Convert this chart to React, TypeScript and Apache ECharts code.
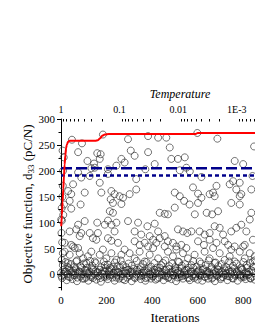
import React, { useEffect, useRef } from 'react';
import * as echarts from 'echarts';

// ---- axis ticks ----
const yTickValues = [0, 50, 100, 150, 200, 250, 300];
const yMinorTickValues = [-25, 25, 75, 125, 175, 225, 275];
const topTickLabels = ['1', '0.1', '0.01', '1E-3'];
const tempMinorTicks = [
  0.9, 0.8, 0.7, 0.6, 0.5, 0.4, 0.3, 0.2,
  0.09, 0.08, 0.07, 0.06, 0.05, 0.04, 0.03, 0.02,
  0.009, 0.008, 0.007, 0.006, 0.005, 0.004, 0.003, 0.002,
  0.0009, 0.0008, 0.0007, 0.0006, 0.0005,
];

// ---- best-so-far objective (red line) ----
const bestSoFar: [number, number][] = [
  [1, 93], [4, 115], [7, 140], [10, 165], [13, 190], [16, 212], [19, 230], [22, 243],
  [26, 251], [31, 256], [38, 258], [60, 258], [100, 258], [150, 258], [162, 259],
  [172, 263], [182, 268], [192, 270], [210, 271], [590, 271], [600, 273], [851, 273],
];

// ---- reference levels (blue dashed) ----
const longDashLine: [number, number][] = [[0, 205], [851, 205]];
const shortDashLine: [number, number][] = [[0, 191], [851, 191]];

// ---- sampled objective values (open circles) ----
const upperPoints: [number, number][] = [
  [48, 260], [92, 253], [184, 270], [294, 261], [382, 267], [426, 264], [462, 264], [598, 273], [686, 262], [847, 247],
  [75, 236], [159, 234], [174, 232], [306, 239], [323, 229], [382, 236], [477, 245],
  [116, 219], [145, 214], [170, 223], [265, 223], [279, 216], [243, 210], [484, 223], [513, 223], [543, 226], [411, 213], [762, 219], [799, 213],
  [133, 205], [148, 206], [206, 203], [370, 203], [521, 201], [550, 206], [565, 199], [616, 188], [126, 190], [75, 197], [89, 187], [206, 194], [330, 184],
  [53, 174], [170, 177], [740, 174], [755, 180], [784, 177], [840, 190], [579, 168], [682, 171], [769, 164], [835, 164],
  [31, 161], [45, 155], [104, 158], [177, 158], [221, 161], [235, 155], [257, 151], [272, 148], [301, 155], [330, 164], [499, 158], [521, 151], [540, 142], [601, 156], [616, 148], [652, 155], [667, 158], [674, 151], [784, 151], [791, 155],
  [38, 142], [86, 135], [218, 145], [228, 138], [265, 136], [499, 129], [564, 135], [601, 138], [747, 138], [784, 135],
  [45, 127], [214, 122], [228, 119], [433, 119], [455, 117], [469, 116], [587, 116], [639, 119], [663, 116], [689, 122], [835, 119],
];

const leftColumnPoints: [number, number][] = [
  [1, 106], [2, 80], [4, 104], [3, 128], [6, 150], [8, 171], [9, 200], [7, 239], [12, 226], [5, 62], [8, 41], [3, 28], [10, 115], [13, 135],
];

const midPoints: [number, number][] = [
  [104, 103], [159, 100], [192, 96], [206, 104], [221, 96], [243, 100], [294, 103], [338, 100], [379, 93], [411, 98],
  [513, 87], [535, 83], [554, 80], [572, 83], [608, 83], [674, 93], [696, 90], [747, 83], [769, 90], [791, 96], [828, 106],
  [38, 83], [67, 87], [89, 80], [126, 80], [140, 70], [155, 67], [206, 70], [221, 65], [250, 61], [323, 64], [345, 57],
  [367, 61], [404, 67], [418, 61], [433, 70], [469, 64], [491, 61], [506, 54], [528, 57], [601, 64], [627, 57], [652, 67],
  [682, 61], [718, 64], [733, 57], [762, 54], [806, 57], [842, 67], [16, 61], [53, 54], [75, 51],
  [652, 80], [630, 77], [711, 77], [813, 83], [75, 96], [82, 74], [162, 80], [235, 83], [323, 83], [352, 77], [389, 74], [426, 83], [455, 74],
];

const lowMidPoints: [number, number][] = [
  [16, 44], [38, 38], [60, 51], [82, 41], [97, 31], [118, 35], [133, 44], [148, 25], [170, 38], [184, 48], [199, 31],
  [221, 41], [243, 28], [265, 38], [279, 48], [67, 25], [31, 22], [111, 22], [192, 18], [228, 15], [272, 18], [45, 57],
  [301, 41], [323, 31], [345, 44], [367, 25], [389, 38], [404, 51], [426, 31], [448, 22], [469, 44], [491, 35], [513, 25],
  [535, 41], [557, 31], [572, 18], [382, 54], [455, 54], [506, 48], [550, 51], [586, 38], [608, 25], [630, 44], [652, 31],
  [674, 22], [696, 41], [718, 28], [740, 35], [762, 25], [784, 44], [806, 31], [828, 41], [842, 25], [667, 51], [747, 48],
  [799, 54], [850, 35],
];

const lowPoints: [number, number][] = [
  [8, 18], [20, 24], [28, 15], [43, 20], [58, 14], [70, 27], [85, 16], [100, 21], [114, 13], [128, 26], [137, 17], [152, 22],
  [176, 14], [188, 25], [205, 19], [215, 13], [236, 23], [248, 16], [262, 27], [285, 14], [296, 21], [310, 17], [332, 26],
  [350, 14], [360, 20], [375, 24], [395, 15], [410, 22], [420, 13], [440, 18], [458, 27], [475, 16], [488, 21], [500, 14],
  [518, 24], [530, 17], [545, 20], [560, 13], [580, 26], [595, 15], [615, 21], [635, 18], [648, 27], [660, 14], [678, 23],
  [690, 16], [705, 20], [725, 14], [738, 25], [755, 17], [770, 21], [790, 13], [800, 24], [815, 18], [830, 22], [845, 15],
  [850, 27],
];

const bandPoints: [number, number][] = [
  [0, 3], [5, -7], [10, 9], [15, -2], [20, 5], [25, -11], [30, 1], [35, 12], [40, -5], [45, 4], [50, -9], [55, 7], [60, -1],
  [65, 10], [70, -13], [75, 2], [80, 6], [85, -4], [90, 13], [95, -8], [100, 0], [105, 8], [110, -6], [115, 3], [120, -12],
  [125, 5], [130, -2], [135, 11], [140, -7], [145, 1], [150, 6], [155, -10], [160, 4], [165, -3], [170, 9], [175, -14],
  [180, 2], [185, 7], [190, -5], [195, 12], [200, -1], [205, -9], [210, 5], [215, 0], [220, 10], [225, -6], [230, 3],
  [235, -12], [240, 8], [245, -2], [250, 4], [255, -8], [260, 13], [265, -4], [270, 1], [275, 7], [280, -11], [285, 3],
  [290, -6], [295, 9], [300, -1], [305, 5], [310, -13], [315, 2], [320, 11], [325, -7], [330, 0], [335, 6], [340, -4],
  [345, 10], [350, -9], [355, 3], [360, -2], [365, 8], [370, -12], [375, 4], [380, -5], [385, 12], [390, 1], [395, -8],
  [400, 6], [405, -3], [410, 9], [415, -10], [420, 2], [425, 7], [430, -6], [435, 13], [440, -1], [445, 4], [450, -11],
  [455, 8], [460, -3], [465, 2], [470, -7], [475, 11], [480, 0], [485, -9], [490, 5], [495, -2], [500, 10], [505, -13],
  [510, 3], [515, 7], [520, -5], [525, 1], [530, 12], [535, -8], [540, 4], [545, -1], [550, 9], [555, -6], [560, 2],
  [565, -11], [570, 6], [575, -3], [580, 13], [585, -7], [590, 0], [595, 5], [600, -10], [605, 8], [610, -2], [615, 3],
  [620, -12], [625, 11], [630, -4], [635, 1], [640, 7], [645, -8], [650, 4], [655, -1], [660, 10], [665, -6], [670, 2],
  [675, -13], [680, 6], [685, -3], [690, 9], [695, 0], [700, -9], [705, 5], [710, -5], [715, 12], [720, -1], [725, 3],
  [730, -11], [735, 8], [740, -4], [745, 1], [750, 6], [755, -8], [760, 11], [765, -2], [770, 4], [775, -12], [780, 7],
  [785, 0], [790, -6], [795, 10], [800, -3], [805, 2], [810, -9], [815, 13], [820, -1], [825, 5], [830, -7], [835, 8],
  [840, -4], [845, 3], [850, -10],
  [2, -3], [12, 1], [22, 6], [32, -4], [42, 8], [52, -1], [62, 3], [72, -6], [82, 5], [92, 0], [102, -8], [112, 7],
  [122, 2], [132, -5], [142, 9], [152, -2], [162, 4], [172, -7], [182, 1], [192, 6], [202, -4], [212, 8], [222, -1],
  [232, 3], [242, -6], [252, 5], [262, 0], [272, -9], [282, 7], [292, 2], [302, -3], [312, 6], [322, -5], [332, 9],
  [342, 1], [352, -2], [362, 4], [372, -7], [382, 8], [392, 0], [402, -4], [412, 3], [422, -8], [432, 6], [442, 1],
  [452, -2], [462, 9], [472, -5], [482, 4], [492, -1], [502, 7], [512, -6], [522, 2], [532, -3], [542, 8], [552, 0],
  [562, -7], [572, 5], [582, 1], [592, -4], [602, 6], [612, -2], [622, 9], [632, -5], [642, 3], [652, 0], [662, -8],
  [672, 7], [682, -1], [692, 4], [702, -6], [712, 2], [722, 8], [732, -3], [742, 5], [752, -7], [762, 1], [772, 6],
  [782, -2], [792, 9], [802, -5], [812, 3], [822, 0], [832, -8], [842, 6],
];

const X_MAX = 851;
const TOP_MAX = 3.311; // decades of temperature spanned by the top axis

const SERIF = 'Liberation Serif';

export default function App() {
  const ref = useRef<HTMLDivElement>(null);

  useEffect(() => {
    if (!ref.current) return;
    const chart = echarts.init(ref.current, undefined, { renderer: 'svg' });
    const allPoints = [
      ...bandPoints, ...lowPoints, ...lowMidPoints, ...midPoints, ...leftColumnPoints, ...upperPoints,
    ];
    const minorTop = tempMinorTicks.map((t) => -Math.log10(t)).filter((v) => v <= TOP_MAX);

    const labelStyle = { color: '#000', fontFamily: SERIF, fontSize: 11 };

    chart.setOption({
      animation: false,
      backgroundColor: '#fff',
      grid: { left: 61, top: 119, right: 0, bottom: 40, containLabel: false },
      xAxis: [
        {
          type: 'value', position: 'bottom', min: 0, max: X_MAX, interval: 200,
          axisLine: { show: true, lineStyle: { color: '#000', width: 1 } },
          axisTick: { show: true, inside: false, length: 4, lineStyle: { color: '#000' } },
          minorTick: { show: true, splitNumber: 2, length: 2.5, lineStyle: { color: '#000' } },
          axisLabel: { ...labelStyle, margin: 4, showMaxLabel: false },
          splitLine: { show: false },
        },
        {
          type: 'value', position: 'top', min: 0, max: TOP_MAX, interval: 1,
          axisLine: { show: true, lineStyle: { color: '#000', width: 1 } },
          axisTick: { show: true, inside: true, length: 4, lineStyle: { color: '#000' } },
          axisLabel: {
            ...labelStyle, fontSize: 10, margin: 5, showMaxLabel: false,
            formatter: (v: number) => topTickLabels[Math.round(v)] ?? '',
          },
          splitLine: { show: false },
        },
        {
          type: 'value', position: 'top', min: 0, max: TOP_MAX,
          axisLine: { show: false },
          axisTick: { show: true, inside: true, length: 2.5, customValues: minorTop, lineStyle: { color: '#000' } },
          axisLabel: { show: false },
          splitLine: { show: false },
        },
      ],
      yAxis: [
        {
          type: 'value', position: 'left', min: -30, max: 300,
          axisLine: { show: true, lineStyle: { color: '#000', width: 1 } },
          axisTick: { show: true, inside: false, length: 4, customValues: yTickValues, lineStyle: { color: '#000' } },
          axisLabel: { ...labelStyle, margin: 6, customValues: yTickValues },
          splitLine: { show: false },
        },
        {
          type: 'value', position: 'left', min: -30, max: 300,
          axisLine: { show: false },
          axisTick: { show: true, inside: false, length: 2.5, customValues: yMinorTickValues, lineStyle: { color: '#000' } },
          axisLabel: { show: false },
          splitLine: { show: false },
        },
      ],
      series: [
        {
          type: 'scatter', xAxisIndex: 0, yAxisIndex: 0, data: allPoints,
          symbol: 'circle', symbolSize: 7,
          itemStyle: { color: 'rgba(255,255,255,0)', borderColor: '#222', borderWidth: 0.8 },
          emphasis: { disabled: true },
        },
        {
          type: 'line', xAxisIndex: 0, yAxisIndex: 0, data: shortDashLine, showSymbol: false,
          lineStyle: { color: '#00008B', width: 2.5, type: [4, 3] },
        },
        {
          type: 'line', xAxisIndex: 0, yAxisIndex: 0, data: longDashLine, showSymbol: false,
          lineStyle: { color: '#00008B', width: 2.5, type: [11, 4] },
        },
        {
          type: 'line', xAxisIndex: 0, yAxisIndex: 0, data: bestSoFar, showSymbol: false,
          smooth: 0.3, smoothMonotone: 'x',
          lineStyle: { color: '#FF0000', width: 2 },
        },
      ],
      graphic: [
        {
          type: 'text', x: 180, y: 94,
          style: {
            text: 'Temperature', fill: '#000', fontFamily: SERIF, fontSize: 12, fontStyle: 'italic',
            align: 'center', verticalAlign: 'middle',
          },
        },
        {
          type: 'text', x: 175, y: 317,
          style: {
            text: 'Iterations', fill: '#000', fontFamily: SERIF, fontSize: 13,
            align: 'center', verticalAlign: 'middle',
          },
        },
        {
          type: 'text', x: 27, y: 204, rotation: Math.PI / 2,
          style: {
            text: '{a|Objective function, d}{s|33}{a| (pC/N)}', fill: '#000', fontFamily: SERIF, fontSize: 13,
            align: 'center', verticalAlign: 'middle',
            rich: {
              a: { fontFamily: SERIF, fontSize: 13, lineHeight: 16, fill: '#000' },
              s: { fontFamily: SERIF, fontSize: 9, lineHeight: 9, verticalAlign: 'bottom', fill: '#000' },
            },
          },
        },
      ],
    });
    return () => chart.dispose();
  }, []);

  return (
    <div
      ref={ref}
      style={{ position: 'fixed', left: 0, top: 0, width: 255, height: 330, background: '#fff' }}
    />
  );
}
